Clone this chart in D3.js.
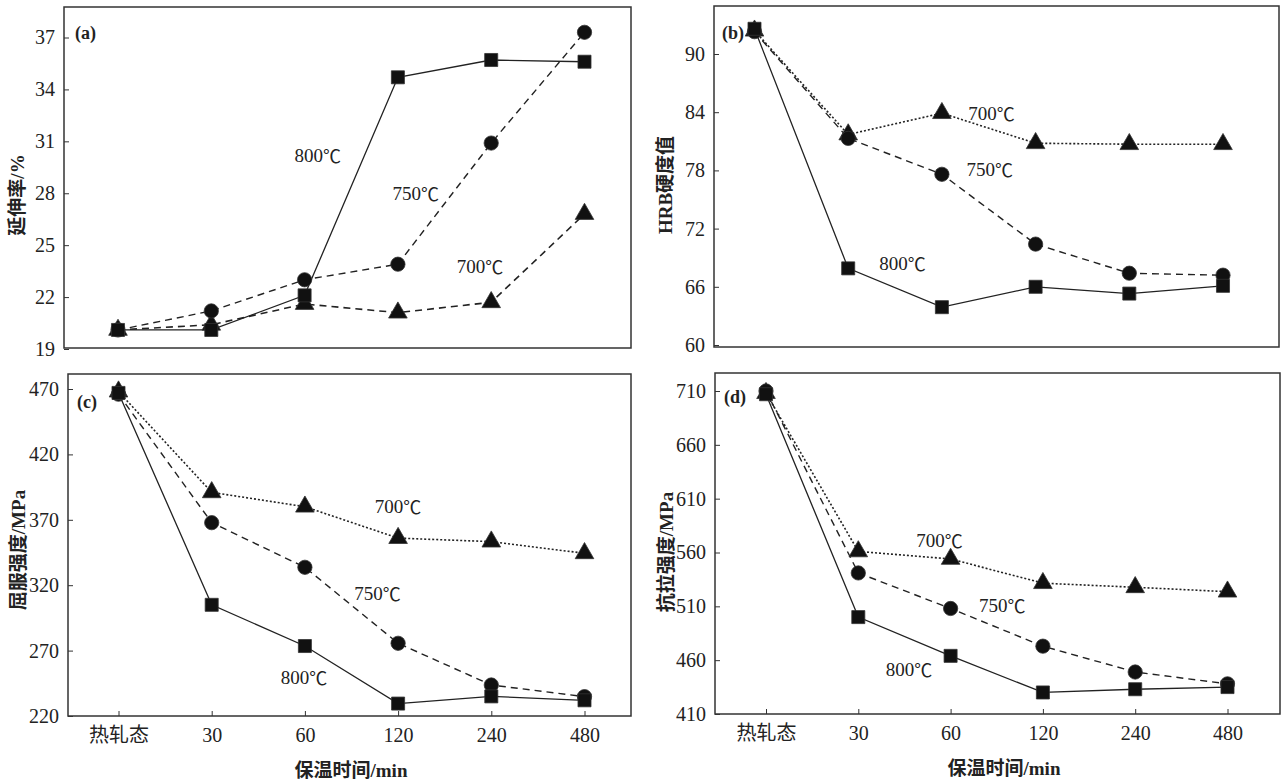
<!DOCTYPE html>
<html>
<head>
<meta charset="utf-8">
<script src="https://cdn.jsdelivr.net/npm/d3@7"></script>
<style>
  html, body { margin: 0; padding: 0; background: #fff; }
  svg { display: block; }
</style>
</head>
<body>
<svg id="chart" width="1285" height="782"></svg>
<script>
// categories on the x axis (holding time)
var categories = ["热轧态", "30", "60", "120", "240", "480"];
var seriesNames = ["800", "750", "700"];

// (a) elongation, %
var elong800 = [20.1, 20.1, 22.1, 34.7, 35.7, 35.6];
var elong750 = [20.1, 21.2, 23.0, 23.9, 30.9, 37.3];
var elong700 = [20.1, 20.4, 21.6, 21.1, 21.7, 26.8];
var elongTicks = [19, 22, 25, 28, 31, 34, 37];

// (b) HRB hardness
var hrb800 = [92.6, 67.9, 63.9, 66.0, 65.3, 66.1];
var hrb750 = [92.3, 81.3, 77.6, 70.4, 67.4, 67.2];
var hrb700 = [92.4, 81.7, 83.9, 80.8, 80.7, 80.7];
var hrbTicks = [60, 66, 72, 78, 84, 90];

// (c) yield strength, MPa
var ys800 = [467, 305, 273.5, 229.5, 235, 232];
var ys750 = [466, 367.8, 333.7, 275.6, 243.7, 234.8];
var ys700 = [468, 391, 380, 356, 353.3, 344.4];
var ysTicks = [220, 270, 320, 370, 420, 470];

// (d) tensile strength, MPa
var ts800 = [707, 500, 464, 430, 433, 435];
var ts750 = [710, 541, 508, 473, 449, 438];
var ts700 = [708, 561, 554, 531.5, 527.7, 523.6];
var tsTicks = [410, 460, 510, 560, 610, 660, 710];

var svg = d3.select("#chart");
var serif = "'Liberation Serif', 'Noto Sans CJK SC', serif";

// layout of the four panels (pixels) and label spots (category index, value)
var panels = [
  {
    tag: "(a)", title: "延伸率/%", series: [elong800, elong750, elong700], ticks: elongTicks,
    box: [64, 7, 631, 348], yDomain: [19, 37], yRange: [349, 37.5], xRange: [118, 584.5],
    dash700: "7,5", xAxis: false, tagPos: [75, 33], titlePos: [17, 195],
    notes: [[2.14, 30.2], [3.19, 28.0], [3.88, 23.8]]
  },
  {
    tag: "(b)", title: "HRB硬度值", series: [hrb800, hrb750, hrb700], ticks: hrbTicks,
    box: [714, 6, 1279, 347], yDomain: [60, 90], yRange: [345, 54], xRange: [754.5, 1223],
    dash700: "2,2", xAxis: false, tagPos: [722, 33], titlePos: [665, 185],
    notes: [[1.58, 68.45], [2.51, 78.1], [2.53, 83.95]]
  },
  {
    tag: "(c)", title: "屈服强度/MPa", series: [ys800, ys750, ys700], ticks: ysTicks,
    box: [68, 374, 631, 716], yDomain: [220, 470], yRange: [716, 389], xRange: [118.5, 584.5],
    dash700: "2,2", xAxis: true, tagPos: [77, 402], titlePos: [18, 550], xTitlePos: [351, 770],
    notes: [[1.99, 250], [2.78, 314], [3.0, 380.8]]
  },
  {
    tag: "(d)", title: "抗拉强度/MPa", series: [ts800, ts750, ts700], ticks: tsTicks,
    box: [715, 373, 1280, 714], yDomain: [410, 710], yRange: [714, 391], xRange: [766, 1227.5],
    dash700: "2,2", xAxis: true, tagPos: [724, 397], titlePos: [666, 552], xTitlePos: [1004, 768],
    notes: [[1.55, 451.5], [2.56, 511.2], [1.88, 571.6]]
  }
];

var symbols = [d3.symbolSquare, d3.symbolCircle, d3.symbolTriangle];
var symbolSizes = [170, 160, 150];

panels.forEach(function (p) {
  var g = svg.append("g");

  var x = d3.scalePoint().domain(categories).range(p.xRange);
  var y = d3.scaleLinear().domain(p.yDomain).range(p.yRange);
  var idx = d3.scaleLinear().domain([0, categories.length - 1]).range(p.xRange);

  // frame
  g.append("rect")
    .attr("x", p.box[0])
    .attr("y", p.box[1])
    .attr("width", p.box[2] - p.box[0])
    .attr("height", p.box[3] - p.box[1])
    .attr("fill", "none")
    .attr("stroke", "#333")
    .attr("stroke-width", 1.5);

  // y axis, inward ticks
  var ya = g.append("g")
    .attr("transform", "translate(" + p.box[0] + ",0)")
    .call(d3.axisLeft(y).tickValues(p.ticks).tickSize(-5).tickPadding(9));
  ya.select(".domain").remove();
  ya.selectAll("line").attr("stroke", "#333");
  ya.selectAll("text")
    .attr("font-family", serif)
    .attr("font-size", 20)
    .attr("fill", "#222");

  if (p.xAxis) {
    var xa = g.append("g")
      .attr("transform", "translate(0," + p.box[3] + ")")
      .call(d3.axisBottom(x).tickSize(-5).tickPadding(12));
    xa.select(".domain").remove();
    xa.selectAll("line").attr("stroke", "#333");
    xa.selectAll("text")
      .attr("font-family", serif)
      .attr("font-size", 20)
      .attr("fill", "#222");

    g.append("text")
      .attr("x", p.xTitlePos[0])
      .attr("y", p.xTitlePos[1])
      .attr("text-anchor", "middle")
      .attr("dominant-baseline", "central")
      .attr("font-family", serif)
      .attr("font-weight", "bold")
      .attr("font-size", 19)
      .attr("fill", "#222")
      .text("保温时间/min");
  }

  // y title
  g.append("text")
    .attr("transform", "translate(" + p.titlePos[0] + "," + p.titlePos[1] + ") rotate(-90)")
    .attr("text-anchor", "middle")
    .attr("dominant-baseline", "central")
    .attr("font-family", serif)
    .attr("font-weight", "bold")
    .attr("font-size", 19)
    .attr("fill", "#222")
    .text(p.title);

  // panel tag
  g.append("text")
    .attr("x", p.tagPos[0])
    .attr("y", p.tagPos[1])
    .attr("dominant-baseline", "central")
    .attr("font-family", serif)
    .attr("font-weight", "bold")
    .attr("font-size", 18)
    .attr("fill", "#222")
    .text(p.tag);

  var line = d3.line()
    .x(function (d, i) { return x(categories[i]); })
    .y(function (d) { return y(d); });

  var dashes = [null, "7,5", p.dash700];
  var widths = [1.3, 1.4, 1.6];

  // lines first, 700 at the back
  [2, 1, 0].forEach(function (s) {
    g.append("path")
      .datum(p.series[s])
      .attr("d", line)
      .attr("fill", "none")
      .attr("stroke", "#222")
      .attr("stroke-width", widths[s])
      .attr("stroke-dasharray", dashes[s]);
  });

  // markers
  [2, 1, 0].forEach(function (s) {
    g.selectAll(".m" + s)
      .data(p.series[s])
      .enter()
      .append("path")
      .attr("class", "m" + s)
      .attr("transform", function (d, i) {
        return "translate(" + x(categories[i]) + "," + y(d) + ")";
      })
      .attr("d", d3.symbol().type(symbols[s]).size(symbolSizes[s]))
      .attr("fill", "#111")
      .attr("stroke", "#333")
      .attr("stroke-width", 0.8);
  });

  // series labels, the ℃ sign from the CJK font
  p.notes.forEach(function (n, s) {
    var t = g.append("text")
      .attr("x", idx(n[0]))
      .attr("y", y(n[1]))
      .attr("text-anchor", "middle")
      .attr("dominant-baseline", "central")
      .attr("font-family", serif)
      .attr("font-size", 19)
      .attr("fill", "#222");
    t.append("tspan").text(seriesNames[s]);
    t.append("tspan")
      .attr("font-family", "'Noto Sans CJK SC', sans-serif")
      .attr("font-size", 18)
      .text("℃");
  });
});
</script>
</body>
</html>
